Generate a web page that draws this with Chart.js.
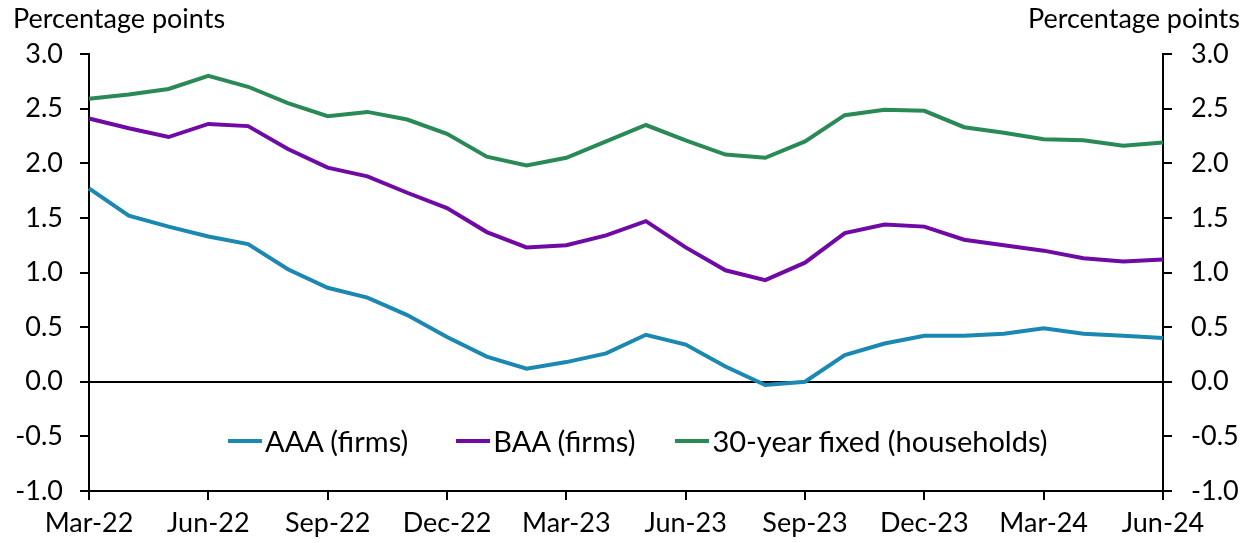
<!DOCTYPE html>
<html lang="en">
<head>
    <meta charset="UTF-8">
    <title>Spreads</title>
    <script src="https://cdn.jsdelivr.net/npm/chart.js"></script>
    <style>
        html, body { margin: 0; padding: 0; background: #fff; }
        .wrap { position: relative; width: 1252px; height: 543px; font-family: Lato, sans-serif; color: #000; }
        .unit { position: absolute; top: 1px; font-size: 27px; line-height: 34px; }
        .unit.left { left: 13px; }
        .unit.right { right: 12px; }
        #legend { position: absolute; top: 423px; left: 228px; display: flex; font-size: 29px; line-height: 36px; }
        #legend .item { display: flex; align-items: center; margin-right: 40px; }
        #legend .item:first-child { margin-right: 48px; }
        #legend .swatch { width: 34px; height: 4px; margin-right: 3px; }
    </style>
</head>
<body>
    <div class="wrap">
        <canvas id="chart" width="1252" height="543"></canvas>
        <div class="unit left">Percentage points</div>
        <div class="unit right">Percentage points</div>
        <div id="legend"></div>
    </div>

    <script>
        // months Mar-22 .. Jun-24
        const months = ['Mar-22', 'Apr-22', 'May-22', 'Jun-22', 'Jul-22', 'Aug-22', 'Sep-22', 'Oct-22', 'Nov-22', 'Dec-22',
            'Jan-23', 'Feb-23', 'Mar-23', 'Apr-23', 'May-23', 'Jun-23', 'Jul-23', 'Aug-23', 'Sep-23', 'Oct-23', 'Nov-23', 'Dec-23',
            'Jan-24', 'Feb-24', 'Mar-24', 'Apr-24', 'May-24', 'Jun-24'];

        const aaa = [1.77, 1.52, 1.42, 1.33, 1.26, 1.03, 0.86, 0.77, 0.61, 0.41,
            0.23, 0.12, 0.18, 0.26, 0.43, 0.34, 0.14, -0.03, 0.00, 0.245, 0.35, 0.42,
            0.42, 0.44, 0.49, 0.44, 0.42, 0.40];

        const baa = [2.41, 2.32, 2.24, 2.36, 2.34, 2.13, 1.96, 1.88, 1.73, 1.59,
            1.37, 1.23, 1.25, 1.34, 1.47, 1.23, 1.02, 0.93, 1.09, 1.36, 1.44, 1.42,
            1.30, 1.25, 1.20, 1.13, 1.10, 1.12];

        const fixed30 = [2.59, 2.63, 2.68, 2.80, 2.70, 2.55, 2.43, 2.47, 2.40, 2.27,
            2.06, 1.98, 2.05, 2.20, 2.35, 2.21, 2.08, 2.05, 2.20, 2.44, 2.49, 2.48,
            2.33, 2.28, 2.22, 2.21, 2.16, 2.19];

        const seriesNames = ['AAA (firms)', 'BAA (firms)', '30-year fixed (households)'];
        const seriesColors = ['#1b88b2', '#700aa4', '#2a8a56'];

        const tickFont = { family: 'Lato', size: 27 };

        function makeDataset(i, values) {
            return {
                label: seriesNames[i],
                data: values,
                borderColor: seriesColors[i],
                backgroundColor: seriesColors[i],
                borderWidth: 4,
                pointRadius: 0,
                tension: 0,
                fill: false,
                yAxisID: 'y'
            };
        }

        const yTicks = {
            stepSize: 0.5,
            color: '#000',
            font: tickFont,
            callback: v => v.toFixed(1)
        };

        const chart = new Chart(document.getElementById('chart'), {
            type: 'line',
            data: {
                labels: months,
                datasets: [makeDataset(0, aaa), makeDataset(1, baa), makeDataset(2, fixed30)]
            },
            options: {
                responsive: false,
                animation: false,
                layout: { padding: { top: 54, left: 0, right: 0, bottom: 0 } },
                plugins: {
                    legend: { display: false },
                    tooltip: { enabled: false }
                },
                scales: {
                    x: {
                        offset: false,
                        border: { color: '#000', width: 2 },
                        grid: { drawOnChartArea: false, tickLength: 9, tickColor: '#000', lineWidth: 2 },
                        ticks: {
                            autoSkip: false,
                            maxRotation: 0,
                            padding: 7,
                            color: '#000',
                            font: tickFont,
                            callback: (v, i) => i % 3 === 0 ? months[i] : null
                        },
                        afterFit: s => { s.height = 52; }
                    },
                    y: {
                        position: 'left',
                        min: -1,
                        max: 3,
                        border: { color: '#000', width: 2 },
                        grid: {
                            drawOnChartArea: true,
                            tickLength: 9,
                            tickColor: '#000',
                            lineWidth: 2,
                            color: ctx => (ctx.tick && ctx.tick.value === 0) ? '#000' : 'rgba(0,0,0,0)'
                        },
                        ticks: Object.assign({ padding: 17 }, yTicks),
                        afterFit: s => { s.width = 89; }
                    },
                    y2: {
                        position: 'right',
                        min: -1,
                        max: 3,
                        border: { color: '#000', width: 2 },
                        grid: { drawOnChartArea: false, tickLength: 9, tickColor: '#000', lineWidth: 2 },
                        ticks: Object.assign({ padding: 19 }, yTicks),
                        afterFit: s => { s.width = 89; }
                    }
                }
            }
        });

        // legend built from the datasets
        const legendBox = document.getElementById('legend');
        chart.data.datasets.forEach(ds => {
            const item = document.createElement('div');
            item.className = 'item';
            const sw = document.createElement('span');
            sw.className = 'swatch';
            sw.style.background = ds.borderColor;
            const txt = document.createElement('span');
            txt.textContent = ds.label;
            item.appendChild(sw);
            item.appendChild(txt);
            legendBox.appendChild(item);
        });
    </script>
</body>
</html>
